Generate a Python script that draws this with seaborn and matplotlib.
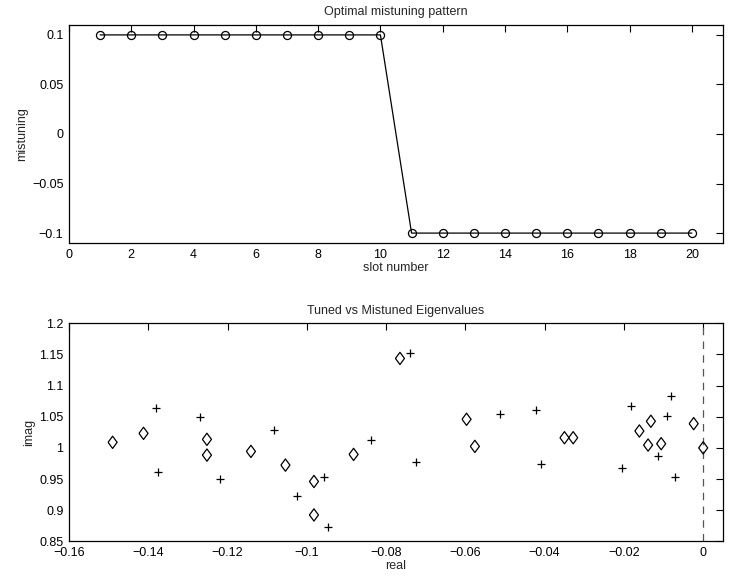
import matplotlib
matplotlib.use("Agg")
import matplotlib.pyplot as plt
import seaborn as sns
import pandas as pd
import numpy as np

slots = list(range(1, 21))
mistuning = [0.1] * 10 + [-0.1] * 10

diamond_real = [-0.1490, -0.1412, -0.1252, -0.1252, -0.1141, -0.1054, -0.0982, -0.0982, -0.0882,
                -0.0765, -0.0597, -0.0576, -0.0350, -0.0328, -0.0161, -0.0132, -0.0139, -0.0106,
                -0.0024, 0.0]
diamond_imag = [1.0089, 1.0233, 1.0137, 0.9884, 0.9943, 0.9723, 0.9460, 0.8923, 0.9895,
                1.1436, 1.0459, 1.0024, 1.0163, 1.0163, 1.0271, 1.0427, 1.0045, 1.0067,
                1.0389, 1.0]
plus_real = [-0.1381, -0.1376, -0.1269, -0.1219, -0.1084, -0.1026, -0.0957, -0.0947, -0.0839,
             -0.0740, -0.0724, -0.0513, -0.0422, -0.0408, -0.0204, -0.0181, -0.0082, -0.0092,
             -0.0113, -0.0071]
plus_imag = [1.0636, 0.9610, 1.0496, 0.9508, 1.0292, 0.9234, 0.9540, 0.8735, 1.0131,
             1.1527, 0.9771, 1.0550, 1.0615, 0.9734, 0.9669, 1.0668, 1.0835, 1.0518,
             0.9863, 0.9535]

top_xticks = [0, 2, 4, 6, 8, 10, 12, 14, 16, 18, 20]
top_yticks = [-0.1, -0.05, 0, 0.05, 0.1]
top_yticklabels = ["\u22120.1", "\u22120.05", "0", "0.05", "0.1"]
bot_xticks = [-0.16, -0.14, -0.12, -0.1, -0.08, -0.06, -0.04, -0.02, 0]
bot_xticklabels = ["\u22120.16", "\u22120.14", "\u22120.12", "\u22120.1", "\u22120.08",
                   "\u22120.06", "\u22120.04", "\u22120.02", "0"]
bot_yticks = [0.85, 0.9, 0.95, 1.0, 1.05, 1.1, 1.15, 1.2]
bot_yticklabels = ["0.85", "0.9", "0.95", "1", "1.05", "1.1", "1.15", "1.2"]

sns.set_style("white")
plt.rcParams['font.family'] = ['Liberation Sans', 'DejaVu Sans']
plt.rcParams['font.size'] = 9

fig = plt.figure(figsize=(7.38, 5.85), dpi=100)
ax1 = fig.add_axes([69/738, 1-243/585, 654/738, 218/585])
ax2 = fig.add_axes([69/738, 1-541.3/585, 654/738, 218/585])

df1 = pd.DataFrame({"slot": slots, "mistuning": mistuning})
sns.lineplot(data=df1, x="slot", y="mistuning", ax=ax1, color="black", linewidth=0.9,
             marker="o", markersize=5.8, markerfacecolor="none", markeredgecolor="black",
             markeredgewidth=0.9)
ax1.set_xlim(0, 21)
ax1.set_ylim(-0.11, 0.11)
ax1.set_xticks(top_xticks)
ax1.set_yticks(top_yticks)
ax1.set_yticklabels(top_yticklabels)
ax1.set_xlabel("slot number", labelpad=1)
ax1.set_ylabel("mistuning", labelpad=3)
ax1.set_title("Optimal mistuning pattern", fontsize=9, pad=7)

diamond_marker = [(-0.74, 0), (0, 1), (0.74, 0), (0, -1), (-0.74, 0)]

df_d = pd.DataFrame({"real": diamond_real, "imag": diamond_imag})
df_p = pd.DataFrame({"real": plus_real, "imag": plus_imag})
ax2.axvline(0, color="#555555", linestyle=(0, (6, 5)), linewidth=0.9, zorder=1)
sns.scatterplot(data=df_d, x="real", y="imag", ax=ax2, marker=diamond_marker, s=78,
                facecolor="none", edgecolor="black", linewidth=0.9, zorder=3)
sns.scatterplot(data=df_p, x="real", y="imag", ax=ax2, marker="+", s=30,
                color="black", linewidth=0.9, zorder=3)
ax2.set_xlim(-0.16, 0.005)
ax2.set_ylim(0.85, 1.2)
ax2.set_xticks(bot_xticks)
ax2.set_xticklabels(bot_xticklabels)
ax2.set_yticks(bot_yticks)
ax2.set_yticklabels(bot_yticklabels)
ax2.set_xlabel("real", labelpad=1)
ax2.set_ylabel("imag", labelpad=3)
ax2.set_title("Tuned vs Mistuned Eigenvalues", fontsize=9, pad=7)

for ax in (ax1, ax2):
    for sp in ax.spines.values():
        sp.set_visible(True)
        sp.set_color("black")
        sp.set_linewidth(0.9)
    ax.tick_params(direction="in", length=5, width=0.8, top=True, right=True,
                   labelsize=9, colors="black", pad=4)
    ax.grid(False)

fig.savefig("out.png", dpi=100, facecolor="white")
